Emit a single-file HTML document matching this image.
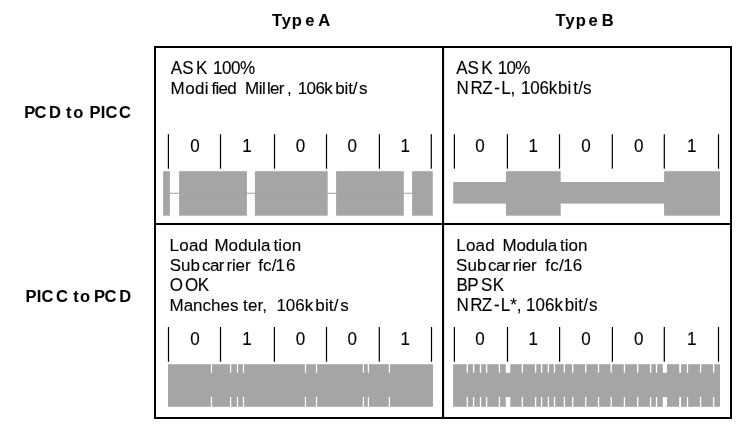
<!DOCTYPE html>
<html><head><meta charset="utf-8"><title>Type A / Type B</title>
<style>
html,body{margin:0;padding:0;background:#fff;}
body{width:748px;height:435px;overflow:hidden;}
svg{display:block;}
text{font-family:"Liberation Sans",sans-serif;fill:#000;stroke:#000;stroke-width:0.12px;}
.b{stroke-width:0.06px;}
.t{font-size:17px;}
.b{font-size:16.5px;font-weight:bold;}
.d{font-size:17px;text-anchor:middle;}
</style></head><body>
<svg width="748" height="435" viewBox="0 0 748 435">
<rect x="0" y="0" width="748" height="435" fill="#fff"/>
<rect x="163.10" y="171.20" width="6.80" height="44.50" fill="#a5a5a5"/>
<rect x="179.10" y="171.20" width="67.80" height="44.50" fill="#a5a5a5"/>
<rect x="254.90" y="171.20" width="72.80" height="44.50" fill="#a5a5a5"/>
<rect x="336.10" y="171.20" width="67.70" height="44.50" fill="#a5a5a5"/>
<rect x="412.10" y="171.20" width="20.70" height="44.50" fill="#a5a5a5"/>
<rect x="169.90" y="192.75" width="242.20" height="1.05" fill="#a5a5a5"/>
<rect x="453.20" y="182.00" width="266.80" height="21.60" fill="#a5a5a5"/>
<rect x="506.00" y="171.20" width="54.70" height="44.50" fill="#a5a5a5"/>
<rect x="664.10" y="171.20" width="55.90" height="44.50" fill="#a5a5a5"/>
<rect x="168.00" y="364.20" width="265.00" height="42.60" fill="#a5a5a5"/>
<rect x="210.85" y="363.70" width="1.20" height="9.10" fill="#fff"/>
<rect x="210.85" y="397.00" width="1.20" height="10.30" fill="#fff"/>
<rect x="230.00" y="363.70" width="1.20" height="9.10" fill="#fff"/>
<rect x="230.00" y="397.00" width="1.20" height="10.30" fill="#fff"/>
<rect x="236.90" y="363.70" width="1.20" height="9.10" fill="#fff"/>
<rect x="236.90" y="397.00" width="1.20" height="10.30" fill="#fff"/>
<rect x="242.90" y="363.70" width="1.20" height="9.10" fill="#fff"/>
<rect x="242.90" y="397.00" width="1.20" height="10.30" fill="#fff"/>
<rect x="304.90" y="363.70" width="1.20" height="9.10" fill="#fff"/>
<rect x="304.90" y="397.00" width="1.20" height="10.30" fill="#fff"/>
<rect x="315.90" y="363.70" width="1.20" height="9.10" fill="#fff"/>
<rect x="315.90" y="397.00" width="1.20" height="10.30" fill="#fff"/>
<rect x="362.80" y="363.70" width="1.20" height="9.10" fill="#fff"/>
<rect x="362.80" y="397.00" width="1.20" height="10.30" fill="#fff"/>
<rect x="367.80" y="363.70" width="1.20" height="9.10" fill="#fff"/>
<rect x="367.80" y="397.00" width="1.20" height="10.30" fill="#fff"/>
<rect x="388.80" y="363.70" width="1.20" height="9.10" fill="#fff"/>
<rect x="388.80" y="397.00" width="1.20" height="10.30" fill="#fff"/>
<rect x="453.10" y="364.20" width="266.90" height="42.60" fill="#a5a5a5"/>
<rect x="466.65" y="363.70" width="1.30" height="9.10" fill="#fff"/>
<rect x="466.65" y="397.00" width="1.30" height="10.30" fill="#fff"/>
<rect x="472.95" y="363.70" width="1.30" height="9.10" fill="#fff"/>
<rect x="472.95" y="397.00" width="1.30" height="10.30" fill="#fff"/>
<rect x="479.85" y="363.70" width="1.30" height="9.10" fill="#fff"/>
<rect x="479.85" y="397.00" width="1.30" height="10.30" fill="#fff"/>
<rect x="485.95" y="363.70" width="1.30" height="9.10" fill="#fff"/>
<rect x="485.95" y="397.00" width="1.30" height="10.30" fill="#fff"/>
<rect x="498.75" y="363.70" width="1.30" height="9.10" fill="#fff"/>
<rect x="498.75" y="397.00" width="1.30" height="10.30" fill="#fff"/>
<rect x="521.75" y="363.70" width="1.30" height="9.10" fill="#fff"/>
<rect x="521.75" y="397.00" width="1.30" height="10.30" fill="#fff"/>
<rect x="534.95" y="363.70" width="1.30" height="9.10" fill="#fff"/>
<rect x="534.95" y="397.00" width="1.30" height="10.30" fill="#fff"/>
<rect x="540.95" y="363.70" width="1.30" height="9.10" fill="#fff"/>
<rect x="540.95" y="397.00" width="1.30" height="10.30" fill="#fff"/>
<rect x="547.75" y="363.70" width="1.30" height="9.10" fill="#fff"/>
<rect x="547.75" y="397.00" width="1.30" height="10.30" fill="#fff"/>
<rect x="553.85" y="363.70" width="1.30" height="9.10" fill="#fff"/>
<rect x="553.85" y="397.00" width="1.30" height="10.30" fill="#fff"/>
<rect x="563.75" y="363.70" width="1.30" height="9.10" fill="#fff"/>
<rect x="563.75" y="397.00" width="1.30" height="10.30" fill="#fff"/>
<rect x="572.05" y="363.70" width="1.30" height="9.10" fill="#fff"/>
<rect x="572.05" y="397.00" width="1.30" height="10.30" fill="#fff"/>
<rect x="585.05" y="363.70" width="1.30" height="9.10" fill="#fff"/>
<rect x="585.05" y="397.00" width="1.30" height="10.30" fill="#fff"/>
<rect x="597.85" y="363.70" width="1.30" height="9.10" fill="#fff"/>
<rect x="597.85" y="397.00" width="1.30" height="10.30" fill="#fff"/>
<rect x="610.55" y="363.70" width="1.30" height="9.10" fill="#fff"/>
<rect x="610.55" y="397.00" width="1.30" height="10.30" fill="#fff"/>
<rect x="623.75" y="363.70" width="1.30" height="9.10" fill="#fff"/>
<rect x="623.75" y="397.00" width="1.30" height="10.30" fill="#fff"/>
<rect x="637.05" y="363.70" width="1.30" height="9.10" fill="#fff"/>
<rect x="637.05" y="397.00" width="1.30" height="10.30" fill="#fff"/>
<rect x="649.95" y="363.70" width="1.30" height="9.10" fill="#fff"/>
<rect x="649.95" y="397.00" width="1.30" height="10.30" fill="#fff"/>
<rect x="655.85" y="363.70" width="1.30" height="9.10" fill="#fff"/>
<rect x="655.85" y="397.00" width="1.30" height="10.30" fill="#fff"/>
<rect x="686.85" y="363.70" width="1.30" height="9.10" fill="#fff"/>
<rect x="686.85" y="397.00" width="1.30" height="10.30" fill="#fff"/>
<rect x="699.95" y="363.70" width="1.30" height="9.10" fill="#fff"/>
<rect x="699.95" y="397.00" width="1.30" height="10.30" fill="#fff"/>
<rect x="712.95" y="363.70" width="1.30" height="9.10" fill="#fff"/>
<rect x="712.95" y="397.00" width="1.30" height="10.30" fill="#fff"/>
<rect x="505.80" y="363.70" width="4.50" height="9.10" fill="#fff"/>
<rect x="505.80" y="397.00" width="4.50" height="10.30" fill="#fff"/>
<rect x="662.80" y="363.70" width="4.20" height="9.10" fill="#fff"/>
<rect x="662.80" y="397.00" width="4.20" height="10.30" fill="#fff"/>
<rect x="679.20" y="363.70" width="1.80" height="9.10" fill="#fff"/>
<rect x="679.20" y="397.00" width="1.80" height="10.30" fill="#fff"/>
<rect x="167.80" y="134.20" width="1.20" height="34.50" fill="#000"/>
<rect x="219.90" y="134.20" width="1.20" height="34.50" fill="#000"/>
<rect x="273.90" y="134.20" width="1.20" height="34.50" fill="#000"/>
<rect x="325.90" y="134.20" width="1.20" height="34.50" fill="#000"/>
<rect x="378.80" y="134.20" width="1.20" height="34.50" fill="#000"/>
<rect x="430.70" y="134.20" width="1.20" height="34.50" fill="#000"/>
<rect x="453.80" y="134.20" width="1.20" height="34.50" fill="#000"/>
<rect x="506.80" y="134.20" width="1.20" height="34.50" fill="#000"/>
<rect x="558.90" y="134.20" width="1.20" height="34.50" fill="#000"/>
<rect x="611.70" y="134.20" width="1.20" height="34.50" fill="#000"/>
<rect x="663.70" y="134.20" width="1.20" height="34.50" fill="#000"/>
<rect x="717.90" y="134.20" width="1.20" height="34.50" fill="#000"/>
<rect x="167.90" y="327.00" width="1.20" height="34.70" fill="#000"/>
<rect x="219.90" y="327.00" width="1.20" height="34.70" fill="#000"/>
<rect x="273.80" y="327.00" width="1.20" height="34.70" fill="#000"/>
<rect x="325.90" y="327.00" width="1.20" height="34.70" fill="#000"/>
<rect x="378.70" y="327.00" width="1.20" height="34.70" fill="#000"/>
<rect x="430.90" y="327.00" width="1.20" height="34.70" fill="#000"/>
<rect x="453.80" y="327.00" width="1.20" height="34.70" fill="#000"/>
<rect x="506.90" y="327.00" width="1.20" height="34.70" fill="#000"/>
<rect x="559.00" y="327.00" width="1.20" height="34.70" fill="#000"/>
<rect x="611.80" y="327.00" width="1.20" height="34.70" fill="#000"/>
<rect x="663.70" y="327.00" width="1.20" height="34.70" fill="#000"/>
<rect x="717.90" y="327.00" width="1.20" height="34.70" fill="#000"/>
<rect x="155" y="47" width="576" height="371" fill="none" stroke="#000" stroke-width="2"/>
<rect x="442" y="47" width="2.1" height="371" fill="#000"/>
<rect x="155" y="223" width="576" height="2" fill="#000"/>
<text class="t" x="170.8 182.24 196 207.34 212.9 221.9 230.9 239.9" y="74" transform="matrix(1 0 0 1.04 0 -2.960)">ASK 100%</text>
<text class="t" x="170.6 185.15 195.01 204.87 211.4 215.43 218.52 227.31 236.1 245 258.7 262.03 266.9 269.96 278.73 286.9 291.63 297.8 306.6 315.39 324.21 335.2 344.51 348.14 352.73 358.9" y="93.6" transform="matrix(1 0 0 1.02 0 -1.872)">Modified Miller, 106kbit/s</text>
<text class="t" x="456.3 467.53 481.3 492.64 497.8 506.55 515.32" y="74" transform="matrix(1 0 0 1.04 0 -2.960)">ASK 10%</text>
<text class="t" x="456.4 470.5 482.27 494.2 501.3 510.41 514.8 521 530.25 539.5 548.75 558 567.52 573.2 578.15 583.11" y="93.6" transform="matrix(1 0 0 1.04 0 -3.744)">NRZ-L, 106kbit/s</text>
<text class="t" x="169.5 179.2 188.91 198.61 208.33 214.4 228.63 238.17 247.7 257.24 261.09 273.5 278.31 282.17 291.72" y="251.5" transform="matrix(1 0 0 1.02 0 -5.030)">Load Modulation</text>
<text class="t" x="169.7 181.03 190.48 201.9 209.9 218.85 226.4 231.95 235.63 244.98 250.56 258.2 263.12 271.81 275.5 286" y="271.3" transform="matrix(1 0 0 1.02 0 -5.426)">Subcarrier fc/16</text>
<text class="t" x="169.7 185 197.72" y="291" transform="matrix(1 0 0 1.04 0 -11.640)">OOK</text>
<text class="t" x="169.5 183.66 193.11 202.56 211.06 220.52 229.97 243.1 247.91 257.48 262.29 267.13 276.4 285.85 295.31 304.76 315.3 324.91 328.85 333.72 340.3" y="310.7" transform="matrix(1 0 0 1.02 0 -6.214)">Manchester, 106kbit/s</text>
<text class="t" x="456.3 465.94 475.6 485.25 494.92 502.5 516.45 525.7 534.97 544.22 547.8 559.9 564.67 568.49 577.99" y="251.5" transform="matrix(1 0 0 1.02 0 -5.030)">Load Modulation</text>
<text class="t" x="456 467.44 476.98 488 495.89 504.75 512.7 518.15 521.73 530.98 536.47 545.2 550.15 558.9 563.2 572.8" y="271.3" transform="matrix(1 0 0 1.02 0 -5.426)">Subcarrier fc/16</text>
<text class="t" x="456.4 467.23 480.9 492.73" y="291" transform="matrix(1 0 0 1.04 0 -11.640)">BPSK</text>
<text class="t" x="456.4 470.3 481.86 493.9 500.8 510.25 516.86 521.6 526.1 535.6 545.1 554.6 564.8 574.38 578.28 583.14 589" y="310.7" transform="matrix(1 0 0 1.04 0 -12.428)">NRZ-L*, 106kbit/s</text>
<text class="b" x="24.2 34.59 49.1 61.02 66 73.3 83.39 89.4 100.65 105.48 119.1" y="117.8" transform="matrix(1 0 0 1.04 0 -4.712)">PCD to PICC</text>
<text class="b" x="25.4 36.65 41.48 56 67.92 73.2 79.9 89.99 94.1 104.4 119.3" y="302.2" transform="matrix(1 0 0 1.04 0 -12.088)">PICC to PCD</text>
<text class="b" x="272 281.75 291.84 305.2 314.39 318.3" y="25.7" transform="matrix(1 0 0 1.02 0 -0.514)">Type A</text>
<text class="b" x="555.6 565.55 575.85 588.6 597.79 601.8" y="25.7" transform="matrix(1 0 0 1.02 0 -0.514)">Type B</text>
<text x="195" y="151.6" class="d" transform="matrix(1 0 0 1.04 0 -6.064)">0</text>
<text x="247" y="151.6" class="d" transform="matrix(1 0 0 1.04 0 -6.064)">1</text>
<text x="300.5" y="151.6" class="d" transform="matrix(1 0 0 1.04 0 -6.064)">0</text>
<text x="352.3" y="151.6" class="d" transform="matrix(1 0 0 1.04 0 -6.064)">0</text>
<text x="405.2" y="151.6" class="d" transform="matrix(1 0 0 1.04 0 -6.064)">1</text>
<text x="480" y="151.6" class="d" transform="matrix(1 0 0 1.04 0 -6.064)">0</text>
<text x="533.3" y="151.6" class="d" transform="matrix(1 0 0 1.04 0 -6.064)">1</text>
<text x="586" y="151.6" class="d" transform="matrix(1 0 0 1.04 0 -6.064)">0</text>
<text x="638.8" y="151.6" class="d" transform="matrix(1 0 0 1.04 0 -6.064)">0</text>
<text x="691.8" y="151.6" class="d" transform="matrix(1 0 0 1.04 0 -6.064)">1</text>
<text x="195" y="344.6" class="d" transform="matrix(1 0 0 1.04 0 -13.784)">0</text>
<text x="247" y="344.6" class="d" transform="matrix(1 0 0 1.04 0 -13.784)">1</text>
<text x="300.5" y="344.6" class="d" transform="matrix(1 0 0 1.04 0 -13.784)">0</text>
<text x="352.3" y="344.6" class="d" transform="matrix(1 0 0 1.04 0 -13.784)">0</text>
<text x="405.2" y="344.6" class="d" transform="matrix(1 0 0 1.04 0 -13.784)">1</text>
<text x="480" y="344.6" class="d" transform="matrix(1 0 0 1.04 0 -13.784)">0</text>
<text x="533.3" y="344.6" class="d" transform="matrix(1 0 0 1.04 0 -13.784)">1</text>
<text x="586" y="344.6" class="d" transform="matrix(1 0 0 1.04 0 -13.784)">0</text>
<text x="638.8" y="344.6" class="d" transform="matrix(1 0 0 1.04 0 -13.784)">0</text>
<text x="691.8" y="344.6" class="d" transform="matrix(1 0 0 1.04 0 -13.784)">1</text>
</svg>
</body></html>
